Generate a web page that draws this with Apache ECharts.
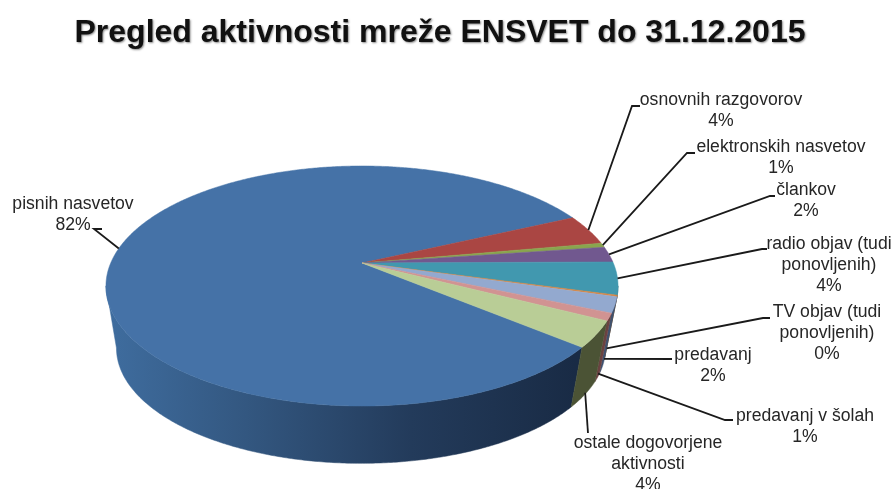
<!DOCTYPE html>
<html>
<head>
<meta charset="utf-8">
<title>Pregled aktivnosti</title>
<script src="https://cdn.jsdelivr.net/npm/echarts@6/dist/echarts.min.js"></script>
<style>
  html, body { margin: 0; padding: 0; background: #fff; }
  #chart { width: 893px; height: 489px; }
</style>
</head>
<body>
<div id="chart"></div>
<script>
// data (percent)
var categories = [
  'pisnih nasvetov',
  'osnovnih razgovorov',
  'elektronskih nasvetov',
  'člankov',
  'radio objav (tudi\nponovljenih)',
  'TV objav (tudi\nponovljenih)',
  'predavanj',
  'predavanj v šolah',
  'ostale dogovorjene\naktivnosti'
];
var values = [82, 4.1, 0.6, 2.1, 4.4, 0.2, 2.1, 1.0, 3.5];
var topColors = ['#4572a7', '#aa4643', '#89a54e', '#71588f', '#4198af', '#db843d', '#93a9cf', '#d19392', '#b9cd96'];
var sideColors = ['#2d4e75', '#6b2c2a', '#566830', '#46375a', '#285f6e', '#8a5326', '#3f5270', '#6b4241', '#4b5335'];

// label placement: centre x, first line y, elbow x/y, line end x, how far down the side the line starts
var labelX = [73, 721, 781, 806, 829, 827, 713, 805, 648];
var labelY = [204, 100, 147, 190, 244, 312, 355, 416, 443];
var elbows = [[94, 229, 102], [632, 106, 640], [687, 153, 695], [770, 196, 775], [762, 249, 767], [763, 318, 770], [672, 359, 672], [725, 420, 733], [588, 433, 588]];
var lineDrop = [0, 0, 0, 0, 0, 0.85, 0.88, 0.93, 0.97];

// tilted disc: perspective projection of a circle, lower rim is a bit smaller
var startAngle = 129.8;
var tilt = 0.1917;
var topDisc = { x: 362, y: 263, a: 251.3, b: 115.6 };
var lowDisc = { x: 361, y: 326, a: 240, b: 111 };
// only this part of the rim faces the viewer
var sideFrom = 101;
var sideTo = 259;

function project(disc, deg) {
  var r = deg * Math.PI / 180;
  var u = Math.sin(r), v = -Math.cos(r);
  var w = 1 - tilt * v;
  return [disc.x + disc.a * u / w, disc.y + disc.b * v / w];
}

function arc(disc, from, to) {
  var pts = [];
  var n = Math.max(2, Math.ceil((to - from) * 2));
  for (var i = 0; i <= n; i++) {
    pts.push(project(disc, from + (to - from) * i / n));
  }
  return pts;
}

var total = values.reduce(function (a, b) { return a + b; }, 0);
var starts = [];
values.reduce(function (acc, v, i) {
  starts[i] = acc;
  return acc + v / total * 360;
}, startAngle);
function endOf(i) { return starts[i] + values[i] / total * 360; }

var blueSide = new echarts.graphic.LinearGradient(106, 0, 575, 0, [
  { offset: 0, color: '#3f6d9f' },
  { offset: 0.3, color: '#335780' },
  { offset: 0.65, color: '#233b5b' },
  { offset: 1, color: '#192b45' }
], true);

function renderSide(params) {
  var i = params.dataIndex;
  var s = starts[i] % 360;
  var e = s + values[i] / total * 360;
  var from = Math.max(s, sideFrom);
  var to = Math.min(e, sideTo);
  if (to <= from) return null;
  var pts = arc(topDisc, from, to).concat(arc(lowDisc, from, to).reverse());
  var fill = i === 0 ? blueSide : sideColors[i];
  return {
    type: 'polygon',
    shape: { points: pts },
    style: { fill: fill, stroke: fill, lineWidth: 0.5 }
  };
}

function renderTop(params) {
  var i = params.dataIndex;
  var pts = [[topDisc.x, topDisc.y]].concat(arc(topDisc, starts[i], endOf(i)));
  return {
    type: 'polygon',
    shape: { points: pts },
    style: { fill: topColors[i], stroke: topColors[i], lineWidth: 0.5 }
  };
}

function renderLabel(params, api) {
  var i = params.dataIndex;
  var mid = (starts[i] + endOf(i)) / 2;
  var a = project(topDisc, mid), b = project(lowDisc, mid);
  var d = lineDrop[i];
  var from = [a[0] + (b[0] - a[0]) * d, a[1] + (b[1] - a[1]) * d];
  var e = elbows[i];
  return {
    type: 'group',
    children: [{
      type: 'polyline',
      shape: { points: [from, [e[0], e[1]], [e[2], e[1]]] },
      style: { fill: null, stroke: '#1a1a1a', lineWidth: 1.8 }
    }, {
      type: 'text',
      style: {
        x: labelX[i],
        y: labelY[i] - 10.5,
        text: categories[i] + '\n' + Math.round(api.value(0)) + '%',
        align: 'center',
        verticalAlign: 'top',
        font: '17.6px "Liberation Sans", Arial, sans-serif',
        lineHeight: 21,
        fill: '#262626'
      }
    }]
  };
}

var chart = echarts.init(document.getElementById('chart'), null, { renderer: 'canvas' });
chart.setOption({
  backgroundColor: '#ffffff',
  animation: false,
  title: {
    text: 'Pregled aktivnosti mreže ENSVET do 31.12.2015',
    left: 435,
    textAlign: 'center',
    top: 12,
    textStyle: {
      fontFamily: '"Liberation Sans", Arial, sans-serif',
      fontWeight: 'bold',
      fontSize: 32,
      color: '#111111',
      textShadowColor: 'rgba(0,0,0,0.45)',
      textShadowBlur: 2,
      textShadowOffsetX: 1,
      textShadowOffsetY: 1
    }
  },
  series: [
    { type: 'custom', coordinateSystem: 'none', silent: true, z: 1, renderItem: renderSide, data: values },
    { type: 'custom', coordinateSystem: 'none', silent: true, z: 2, renderItem: renderTop, data: values },
    { type: 'custom', coordinateSystem: 'none', silent: true, z: 3, renderItem: renderLabel, data: values }
  ]
});
</script>
</body>
</html>
